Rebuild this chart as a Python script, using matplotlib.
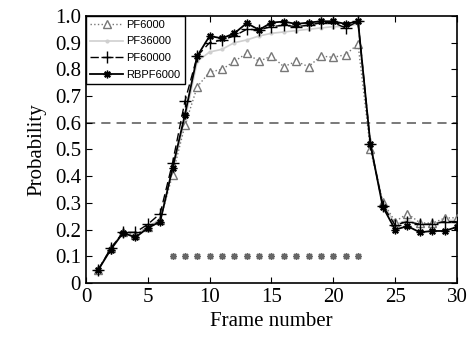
import numpy as np
import matplotlib
matplotlib.use("Agg")
import matplotlib.pyplot as plt

# frames
frames = np.arange(1, 31)

# PF6000 (triangles, dotted)
pf6000 = [0.05, 0.13, 0.19, 0.18, 0.21, 0.235, 0.405, 0.59, 0.735, 0.79,
          0.80, 0.83, 0.86, 0.83, 0.85, 0.81, 0.83, 0.81, 0.85, 0.845,
          0.855, 0.895, 0.50, 0.305, 0.23, 0.26, 0.226, 0.224, 0.243, 0.245]
# PF36000 (light grey, dots)
pf36000 = [0.05, 0.13, 0.19, 0.18, 0.21, 0.24, 0.42, 0.61, 0.83, 0.865,
           0.875, 0.90, 0.91, 0.925, 0.935, 0.94, 0.945, 0.95, 0.955, 0.96,
           0.96, 0.97, 0.52, 0.30, 0.22, 0.235, 0.22, 0.22, 0.235, 0.235]
# PF60000 (plus, dashed)
pf60000 = [0.05, 0.13, 0.19, 0.19, 0.22, 0.26, 0.45, 0.68, 0.85, 0.90,
           0.91, 0.925, 0.95, 0.948, 0.96, 0.965, 0.96, 0.965, 0.975, 0.975,
           0.955, 0.98, 0.52, 0.29, 0.217, 0.23, 0.22, 0.22, 0.23, 0.23]
# RBPF6000 (asterisk, solid)
rbpf6000 = [0.05, 0.125, 0.188, 0.171, 0.206, 0.23, 0.43, 0.63, 0.85, 0.925,
            0.916, 0.935, 0.973, 0.948, 0.975, 0.979, 0.97, 0.975, 0.98, 0.98,
            0.97, 0.98, 0.52, 0.286, 0.20, 0.213, 0.19, 0.195, 0.195, 0.21]
# frames marked at 0.1
mark_frames = np.arange(7, 23)
mark_level = 0.1
threshold = 0.6

plt.rcParams["font.family"] = "Liberation Serif"
fig = plt.figure(figsize=(4.75, 3.39), dpi=100)
ax = fig.add_axes([0.181, 0.165, 0.781, 0.788])

star = (8, 2, 0)
ax.axhline(threshold, color="#555555", ls=(0, (6, 4)), lw=1.1, zorder=1)
ax.plot(frames, pf36000, color="#cfcfcf", lw=1.2, marker=".", ms=4,
        label="PF36000", zorder=2)
ax.plot(frames, pf6000, color="#777777", ls=":", lw=1.0, marker="^", ms=6,
        mfc="white", mec="#777777", label="PF6000", zorder=3)
ax.plot(frames, pf60000, color="black", ls=(0, (6, 3)), lw=1.0, marker="+",
        ms=8, mew=1.0, label="PF60000", zorder=4)
ax.plot(frames, rbpf6000, color="black", lw=1.3, marker=star, ms=5.5,
        mew=1.0, label="RBPF6000", zorder=5)
ax.plot(mark_frames, np.full(len(mark_frames), mark_level), ls="none",
        marker=star, ms=5, color="#666666", mew=1.0)

ax.set_xlim(0, 30)
ax.set_ylim(0, 1.0)
ax.set_xticks(range(0, 31, 5))
ax.set_yticks(np.arange(0, 1.01, 0.1))
ax.set_yticklabels(["0"] + ["%.1f" % v for v in np.arange(0.1, 1.01, 0.1)])
ax.tick_params(direction="in", top=True, right=True, labelsize=15, length=4)
for s in ax.spines.values():
    s.set_linewidth(1.2)
ax.set_xlabel("Frame number", fontsize=15, labelpad=4)
ax.set_ylabel("Probability", fontsize=15, labelpad=6)

h, l = ax.get_legend_handles_labels()
order = [1, 0, 2, 3]
leg = ax.legend([h[i] for i in order], [l[i] for i in order], loc="upper left",
                prop={"family": "Liberation Sans", "size": 8},
                fancybox=False, edgecolor="black", framealpha=1,
                borderaxespad=0.0, handlelength=3.0, handletextpad=0.3,
                labelspacing=0.6, borderpad=0.35)
leg.get_frame().set_linewidth(1.0)

fig.savefig("out.png", dpi=100)
